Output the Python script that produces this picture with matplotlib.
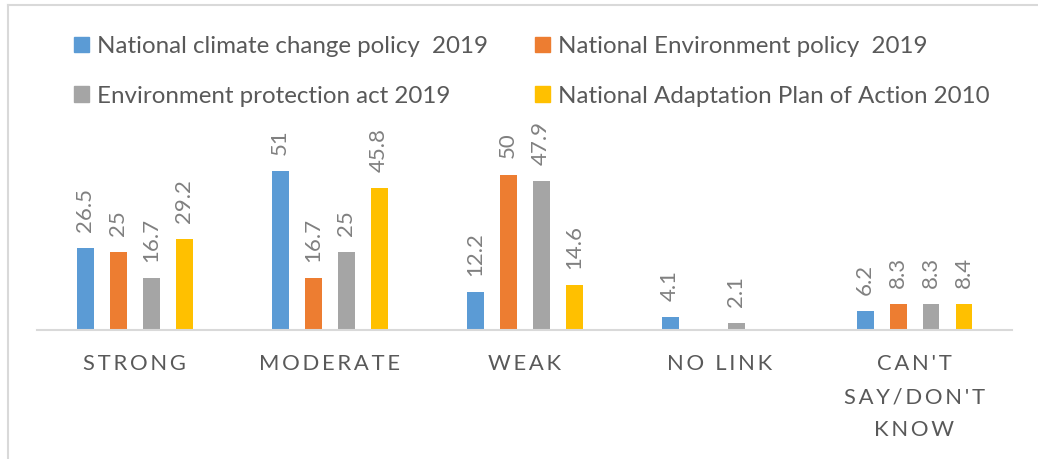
import matplotlib
matplotlib.use("Agg")
import matplotlib.pyplot as plt
from matplotlib.patches import Patch
from matplotlib.lines import Line2D
import numpy as np

plt.rcParams['font.family'] = ['Lato', 'DejaVu Sans']

categories = ["STRONG", "MODERATE", "WEAK", "NO LINK", "CAN'T\nSAY/DON'T\nKNOW"]
series_names = ["National climate change policy  2019",
                "National Environment policy  2019",
                "Environment protection act 2019",
                "National Adaptation Plan of Action 2010"]
climate_policy = [26.5, 51, 12.2, 4.1, 6.2]
environment_policy = [25, 16.7, 50, np.nan, 8.3]
protection_act = [16.7, 25, 47.9, 2.1, 8.3]
napa_2010 = [29.2, 45.8, 14.6, np.nan, 8.4]
colors = ["#5B9BD5", "#ED7D31", "#A5A5A5", "#FFC000"]

W, H = 1038, 459
fig = plt.figure(figsize=(W / 100, H / 100), dpi=100)
ax = fig.add_axes([37 / W, 129 / H, 975 / W, 200 / H])

series = [climate_policy, environment_policy, protection_act, napa_2010]
x = np.arange(len(categories))
step = 33 / 195
width = 17 / 195
for i, (vals, col) in enumerate(zip(series, colors)):
    pos = x + (i - 1.5) * step
    ax.bar(pos, vals, width=width, color=col)
    for px, v in zip(pos, vals):
        if np.isnan(v):
            continue
        ax.annotate(f"{v:g}", (px, v), xytext=(0, 16), textcoords="offset pixels",
                    rotation=90, ha="center", va="bottom", fontsize=16,
                    color="#808080")

ax.set_xlim(-0.5, len(categories) - 0.5)
ax.set_ylim(0, 200 / 3.11)
ax.set_yticks([])
for s in ["top", "right", "left"]:
    ax.spines[s].set_visible(False)
ax.spines["bottom"].set_color("#D9D9D9")
ax.spines["bottom"].set_linewidth(1.5)


def spaced(text):
    return "\n".join("\u2009".join(line) for line in text.split("\n"))


ax.set_xticks(x)
ax.set_xticklabels([spaced(c) for c in categories], fontsize=15.8,
                   color="#595959", linespacing=1.84, va="top")
ax.tick_params(axis="x", length=0, pad=17)

handles = [Patch(color=colors[k]) for k in [0, 2, 1, 3]]
labels = [series_names[k] for k in [0, 2, 1, 3]]
fig.legend(handles, labels, ncol=2, loc="upper left",
           bbox_to_anchor=(74 / W, 1 - 36 / H), frameon=False, fontsize=17.4,
           handlelength=0.62, handleheight=0.62, handletextpad=0.33,
           labelspacing=1.18, columnspacing=1.95, borderpad=0, borderaxespad=0,
           labelcolor="#595959")

fig.add_artist(Line2D([7.5 / W, 7.5 / W], [0, 1 - 5 / H], transform=fig.transFigure,
                      color="#D9D9D9", lw=1.5))
fig.add_artist(Line2D([7.5 / W, 1], [1 - 5 / H, 1 - 5 / H], transform=fig.transFigure,
                      color="#D9D9D9", lw=1.5))

fig.savefig("out.png", dpi=100)
